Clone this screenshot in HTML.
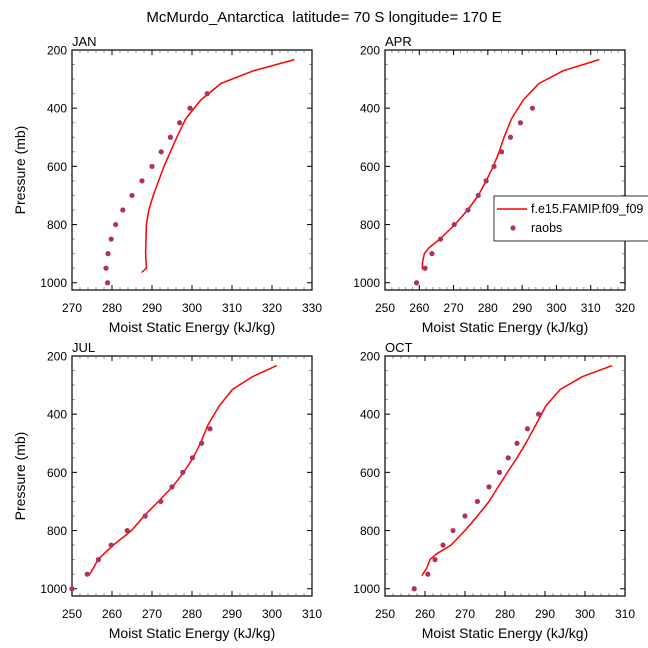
<!DOCTYPE html>
<html><head><meta charset="utf-8"><style>
html,body{margin:0;padding:0;background:#fff}
svg{display:block;font-family:"Liberation Sans",sans-serif}
</style></head><body>
<svg id="chart" width="648" height="648" viewBox="0 0 648 648">
<text x="324" y="22" text-anchor="middle" font-size="15" style="white-space:pre">McMurdo_Antarctica  latitude= 70 S longitude= 170 E</text>
</svg>
<script>
const months = ["JAN","APR","JUL","OCT"];
const obsPressure = [1000,950,900,850,800,750,700,650,600,550,500,450,400,350];
const obsJAN = [278.9,278.5,279.0,279.8,280.9,282.7,285.0,287.5,290.0,292.3,294.6,296.9,299.5,303.8];
const obsAPR = [259.2,261.7,263.7,266.2,270.2,274.2,277.2,279.5,281.8,284.0,286.6,289.5,293.0];
const obsJUL = [250.0,253.8,256.6,259.8,263.8,268.3,272.2,275.0,277.7,280.1,282.4,284.5];
const obsOCT = [257.3,260.7,262.5,264.5,267.0,270.0,273.1,276.0,278.6,280.8,283.0,285.6,288.4];
const modelPressureJAN = [233,271,315,372,437,500,600,700,750,800,900,950,965];
const modelJAN = [325.6,315.4,307.2,302.2,298.4,296.2,293.0,290.3,289.2,288.6,288.4,288.6,287.4];
const modelPressure = [233,271,315,372,437,500,550,600,650,700,750,800,850,880,900,930,955];
const modelAPR = [312.5,302.0,294.9,290.3,286.9,284.7,283.3,281.6,279.5,277.2,274.1,270.4,266.0,262.8,261.5,260.9,260.9];
const modelJUL = [301.2,295.1,290.1,286.8,284.0,282.1,280.3,277.9,275.1,271.6,268.0,264.9,260.3,258.0,256.5,255.3,254.2];
const modelOCT = [306.8,299.3,293.8,290.2,287.7,285.2,283.0,280.6,278.3,276.0,273.1,270.0,266.5,262.9,261.25,260.4,259.2];
const xRanges = [[270,330],[250,320],[250,310],[250,310]];
const yTicks = [200,400,600,800,1000];

const NS="http://www.w3.org/2000/svg";
const svg=document.getElementById('chart');
function mk(tag,attrs,parent){const e=document.createElementNS(NS,tag);for(const k in attrs)e.setAttribute(k,attrs[k]);(parent||svg).appendChild(e);return e;}

const panels=[
 {x0:72,y0:50,obs:obsJAN,mp:modelPressureJAN,m:modelJAN,ylab:true},
 {x0:385,y0:50,obs:obsAPR,mp:modelPressure,m:modelAPR,ylab:false},
 {x0:72,y0:356,obs:obsJUL,mp:modelPressure,m:modelJUL,ylab:true},
 {x0:385,y0:356,obs:obsOCT,mp:modelPressure,m:modelOCT,ylab:false}
];
const W=240,H=240,PMIN=200,PMAX=1025;
panels.forEach((p,i)=>{
 const g=mk('g',{});
 
 
 const [xmin,xmax]=xRanges[i];
 const sx=v=>p.x0+(v-xmin)/(xmax-xmin)*W;
 const sy=v=>p.y0+(v-PMIN)/(PMAX-PMIN)*H;
 for(let v=xmin;v<=xmax;v+=2){
  const major=(v%10===0);const L=major?5:3;const x=sx(v);
  const c=major?'#000':'#999';
  mk('line',{x1:x,x2:x,y1:p.y0+H,y2:p.y0+H-L,stroke:c,'stroke-width':1},g);
  mk('line',{x1:x,x2:x,y1:p.y0,y2:p.y0+L,stroke:c,'stroke-width':1},g);
  if(major){const t=mk('text',{x:x,y:p.y0+H+22,'text-anchor':'middle','font-size':12},g);t.textContent=v;
   }
 }
 for(let v=200;v<=1000;v+=50){
  const major=(v%200===0);const L=major?5:3;const y=sy(v);const c=major?'#000':'#999';
  mk('line',{x1:p.x0,x2:p.x0+L,y1:y,y2:y,stroke:c,'stroke-width':1},g);
  mk('line',{x1:p.x0+W,x2:p.x0+W-L,y1:y,y2:y,stroke:c,'stroke-width':1},g);
 }
 yTicks.forEach(v=>{const t=mk('text',{x:p.x0-5,y:sy(v)+4.5,'text-anchor':'end','font-size':12},g);t.textContent=v;
  });
 const fr=mk('rect',{x:p.x0,y:p.y0,width:W,height:H,fill:'none',stroke:'#000','stroke-width':1.2},g);
 
 const ml=mk('text',{x:p.x0,y:p.y0-4,'font-size':13},g);ml.textContent=months[i];
 
 const xt=mk('text',{x:p.x0+W/2,y:p.y0+H+42,'text-anchor':'middle','font-size':14},g);xt.textContent='Moist Static Energy (kJ/kg)';
 
 if(p.ylab){const yt=mk('text',{x:0,y:0,'text-anchor':'middle','font-size':14,transform:`translate(25,${p.y0+H/2}) rotate(-90)`},g);yt.textContent='Pressure (mb)';
  }
 const pts=p.m.map((v,k)=>sx(v).toFixed(1)+','+sy(p.mp[k]).toFixed(1)).join(' ');
 const pl=mk('polyline',{points:pts,fill:'none',stroke:'#f00','stroke-width':1.5,'stroke-linejoin':'round'},g);
 
 p.obs.forEach((v,k)=>{const c=mk('circle',{cx:sx(v),cy:sy(obsPressure[k]),r:2.6,fill:'#b03060'},g);
  });
});
const lg=mk('g',{});


mk('rect',{x:494,y:196,width:160,height:45,fill:'#fff',stroke:'#000','stroke-width':0.8},lg);
mk('line',{x1:497,x2:527,y1:209,y2:209,stroke:'#f00','stroke-width':1.5},lg);
const l1=mk('text',{x:531,y:213,'font-size':12.5},lg);l1.textContent='f.e15.FAMIP.f09_f09';

mk('circle',{cx:513,cy:228,r:2.6,fill:'#b03060'},lg);
const l2=mk('text',{x:531,y:232,'font-size':12.5},lg);l2.textContent='raobs';

</script>
</body></html>
